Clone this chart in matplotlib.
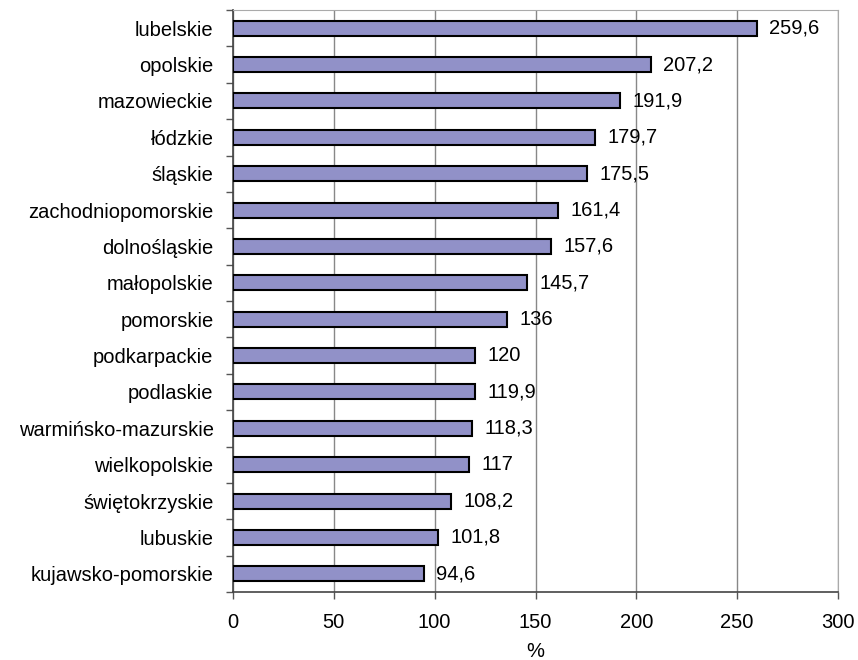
import matplotlib
matplotlib.use("Agg")
import matplotlib.pyplot as plt

regions = ["lubelskie", "opolskie", "mazowieckie", "łódzkie", "śląskie",
           "zachodniopomorskie", "dolnośląskie", "małopolskie", "pomorskie",
           "podkarpackie", "podlaskie", "warmińsko-mazurskie", "wielkopolskie",
           "świętokrzyskie", "lubuskie", "kujawsko-pomorskie"]
values = [259.6, 207.2, 191.9, 179.7, 175.5, 161.4, 157.6, 145.7, 136,
          120, 119.9, 118.3, 117, 108.2, 101.8, 94.6]
value_labels = ["259,6", "207,2", "191,9", "179,7", "175,5", "161,4", "157,6",
                "145,7", "136", "120", "119,9", "118,3", "117", "108,2",
                "101,8", "94,6"]
x_ticks = [0, 50, 100, 150, 200, 250, 300]

plt.rcParams["font.family"] = ["Liberation Sans", "DejaVu Sans"]
FS = 14.5

fig = plt.figure(figsize=(8.58, 6.6), dpi=100)
ax = fig.add_axes([233 / 858, 68 / 660, 605 / 858, 582 / 660])

n = len(regions)
ypos = list(range(n))
ax.barh(ypos, values, height=0.41, color="#9191c8", edgecolor="black",
        linewidth=1.5, zorder=3)
for y, v, lab in zip(ypos, values, value_labels):
    ax.annotate(lab, (v, y), xytext=(9, 0), textcoords="offset points",
                va="center", ha="left", fontsize=FS, zorder=4)

ax.set_ylim(n - 0.5, -0.5)
ax.set_xlim(0, 300)
ax.set_xticks(x_ticks)
ax.set_xticklabels([str(t) for t in x_ticks], fontsize=FS)
ax.set_yticks(ypos)
ax.set_yticklabels(regions, fontsize=FS)
ax.tick_params(axis="y", length=0, pad=14)
ax.set_yticks([i - 0.5 for i in range(n + 1)], minor=True)
ax.tick_params(axis="y", which="minor", length=5, width=1, color="#555555")
ax.tick_params(axis="x", length=5, width=1, color="#555555", pad=10)
ax.set_xlabel("%", fontsize=FS, labelpad=7)

ax.grid(axis="x", color="#888888", linewidth=1, zorder=0)
for side in ["top", "right"]:
    ax.spines[side].set_color("#aaaaaa")
for side in ["left", "bottom"]:
    ax.spines[side].set_color("#444444")
    ax.spines[side].set_linewidth(1.2)

fig.savefig("out.png", dpi=100)
